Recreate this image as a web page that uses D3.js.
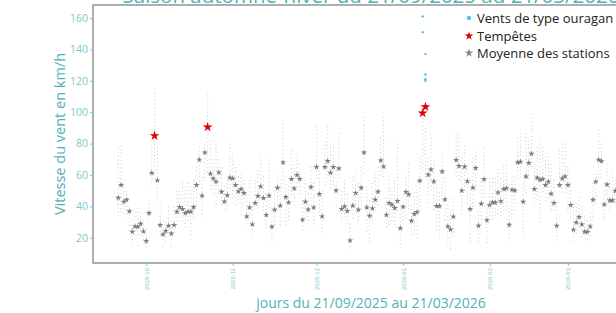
<!DOCTYPE html>
<html><head><meta charset="utf-8">
<script src="https://cdn.jsdelivr.net/npm/d3@7"></script>
<style>
html,body{margin:0;padding:0;background:#fff;}
svg{display:block;font-family:"Open Sans","Noto Sans",sans-serif;}
</style></head>
<body><svg id="c" width="616" height="313"></svg>
<script>
const titleText = "Saison automne-hiver du 21/09/2025 au 21/03/2026";
const xTitle = "jours du 21/09/2025 au 21/03/2026";
const yTitle = "Vitesse du vent en km/h";
const legendLabels = ["Vents de type ouragan", "Tempêtes", "Moyenne des stations"];
const startDate = "2025-09-21";
const endDate = "2026-03-21";
const yTicks = [20, 40, 60, 80, 100, 120, 140, 160];

// daily mean of stations (km/h), one value per day from 21/09/2025
const meanSpeed = [45.4,53.6,42.9,44.2,36.8,23.8,27.2,27,28.9,24,17.9,35.7,61.2,85,56.5,28.1,22.1,24.3,27.6,22.7,
28.1,36.6,39.5,38.3,35.7,36.6,36.6,39.5,53.6,69.7,46.8,74.3,90.5,60.8,57.8,55.7,61.6,49.3,43.1,47,
58.2,57.8,53.6,49.5,51,48.5,33.6,39.3,28.5,42.1,46.6,52.7,45.3,34.5,46.8,27,37.8,51.8,40.4,68,
45.9,42.5,57.4,51.4,59.9,57.4,31.5,42.9,38,52.3,39.3,65,47.8,33.6,65,68.9,61.4,65,50.1,64.1,
38.3,39.9,37,18.3,40.4,48.5,37.8,51.8,74.3,39.3,34,38.7,44.2,49.3,69.2,65.4,34.5,42.1,41,38.9,
43.4,26,39.8,49.1,47.5,30.8,35.1,36.4,56.3,99.4,103.4,60.1,63.5,55.9,40.2,40.2,62.2,44.4,27.2,25.3,
33.4,69.5,65.7,50,65.2,56,38.3,51.8,64.4,27.6,41.6,57.3,31.2,40.9,42.6,42.4,48.8,43.3,51,51.5,
28.2,50.6,50.1,68,68.4,42.9,59,67.6,73.5,51,58.2,56.9,57.4,53.6,55.7,48,42.1,27.6,53.6,57.8,
59,53.6,40.8,25.1,29.7,33.2,28.5,23.8,23.8,27.2,44.2,55.7,69.7,68.9,41.2,53.9,43.8,43.8,49.7];

// highest and lowest station reading of each day (km/h)
const maxSpeed = [77,79,57,50,40,31,34,39,36,31,26,44,78,115,78,41,31,30,40,31,
40,50,50,57,53,55,53,57,65,78,59,80,112,82,70,82,70,65,53,57,
80,74,65,59,61,57,48,57,40,57,63,72,59,48,70,40,50,61,57,95,
59,53,76,67,72,67,44,57,48,65,55,91,63,50,82,91,78,80,65,87,
50,57,48,29,59,63,55,65,97,53,44,55,61,65,84,97,46,57,50,57,
80,40,48,61,67,41,49,56,71,96,90,71,86,69,54,49,73,58,41,37,
45,88,86,71,79,66,58,71,75,37,58,77,41,58,58,58,64,58,66,69,
39,59,59,84,87,57,89,82,99,67,78,82,78,72,74,67,57,40,76,80,
80,65,55,42,42,46,40,34,31,36,55,61,89,80,50,67,57,61,57];
const minSpeed = [33,35,33,35,27,15,19,14,21,17,14,31,52,57,43,21,14,17,21,12,
23,27,31,29,25,29,21,31,40,53,31,57,60,50,48,40,48,40,36,36,
50,44,40,40,34,40,27,31,23,36,38,44,36,25,38,17,27,42,27,50,
27,31,46,40,48,46,23,31,27,40,27,57,36,23,53,57,50,53,42,57,
29,31,27,12,31,36,27,40,61,23,17,27,36,40,59,57,25,27,29,27,
36,14,27,31,36,20,22,20,37,62,58,41,50,37,24,20,43,30,16,12,
20,58,56,33,50,39,16,37,50,16,28,45,16,28,30,33,33,33,37,37,
16,31,36,57,57,21,46,57,65,40,44,29,48,42,44,36,36,17,50,48,
48,36,31,17,21,23,19,17,17,21,31,40,57,57,29,40,36,40,40];

// storm days (index of day from 21/09/2025)
const stormDays = [13, 32, 109, 110];
// hurricane-type gusts: day index and speed
const hurricaneDay = [109, 109, 110, 110, 110, 110];
const hurricaneSpeed = [161, 151, 137, 124, 121, 120];

const svg = d3.select("#c");
const teal = "#4fb3b3", tealLight = "#7ccaca";
const panel = {left: 93, right: 649, top: 5, bottom: 263};

const t0 = new Date(startDate + "T00:00:00Z"), t1 = new Date(endDate + "T00:00:00Z");
const pad = (t1 - t0) * 0.05;
const x = d3.scaleUtc().domain([new Date(+t0 - pad), new Date(+t1 + pad)]).range([panel.left, panel.right]);
const y = d3.scaleLinear().domain([3.9, 168.3]).range([panel.bottom, panel.top]);
const day = i => d3.utcDay.offset(t0, i);

svg.append("defs").append("clipPath").attr("id","pc")
  .append("rect").attr("x",panel.left).attr("y",panel.top).attr("width",panel.right-panel.left).attr("height",panel.bottom-panel.top);

const g = svg.append("g").attr("clip-path","url(#pc)");

// station spread
g.selectAll("line.st").data(meanSpeed.map((m,i)=>i)).join("line")
  .attr("x1", i=>x(day(i))).attr("x2", i=>x(day(i)))
  .attr("y1", i=>y(maxSpeed[i])).attr("y2", i=>y(minSpeed[i]))
  .attr("stroke","#d2d2d2").attr("stroke-width",1.1).attr("stroke-dasharray","1.1,2.6");

// hurricane points
g.selectAll("circle.h").data(hurricaneDay.map((d,i)=>i)).join("circle")
  .attr("cx", i=>x(day(hurricaneDay[i]))).attr("cy", i=>y(hurricaneSpeed[i])).attr("r",1.2)
  .attr("fill","#4cc3f0");

const star = d3.symbol().type(d3.symbolStar);
// mean stars
g.selectAll("path.m").data(meanSpeed.map((m,i)=>i).filter(i=>!stormDays.includes(i))).join("path")
  .attr("transform", i=>`translate(${x(day(i))},${y(meanSpeed[i])})`)
  .attr("d", star.size(12)()).attr("fill","#7d7d7d");
// storm stars
g.selectAll("path.s").data(stormDays).join("path")
  .attr("transform", i=>`translate(${x(day(i))},${y(meanSpeed[i])})`)
  .attr("d", star.size(30)()).attr("fill","#e00000");

// panel border
svg.append("rect").attr("x",panel.left).attr("y",panel.top).attr("width",panel.right-panel.left).attr("height",panel.bottom-panel.top)
  .attr("fill","none").attr("stroke","#7a7a7a").attr("stroke-width",1.2);

// axes
const ya = svg.append("g").attr("transform",`translate(${panel.left},0)`)
  .call(d3.axisLeft(y).tickValues(yTicks).tickSize(3).tickPadding(2));
ya.select(".domain").remove();
ya.selectAll("line").attr("stroke",tealLight);
ya.selectAll("text").attr("fill",tealLight).attr("font-size",10.5).style("font-family","Open Sans");

const xa = svg.append("g").attr("transform",`translate(0,${panel.bottom})`)
  .call(d3.axisBottom(x).ticks(d3.utcMonth.every(1)).tickFormat(d3.utcFormat("%Y-%m")).tickSize(3));
xa.select(".domain").remove();
xa.selectAll("line").attr("stroke",tealLight);
xa.selectAll("text").attr("fill",tealLight).attr("font-size",6).attr("transform","rotate(-90)")
  .attr("x",-5).attr("y",0).attr("dy","0.35em").attr("text-anchor","end");

// titles
svg.append("text").attr("x",371).attr("y",3).attr("text-anchor","middle").attr("font-size",20.5)
  .attr("fill",teal).text(titleText);
svg.append("text").attr("x",371).attr("y",308).attr("text-anchor","middle").attr("font-size",14)
  .attr("fill",teal).text(xTitle);
svg.append("text").attr("transform","translate(65,134) rotate(-90)").attr("text-anchor","middle").attr("font-size",14.5)
  .attr("fill",teal).text(yTitle);

// legend
const lg = svg.append("g");
const ly = [18, 36, 53];
lg.append("circle").attr("cx",469).attr("cy",ly[0]).attr("r",2.2).attr("fill","#4cc3f0");
lg.append("path").attr("transform",`translate(469,${ly[1]})`).attr("d",star.size(24)()).attr("fill","#e00000");
lg.append("path").attr("transform",`translate(469,${ly[2]})`).attr("d",star.size(24)()).attr("fill","#888");
legendLabels.forEach((t,i)=>lg.append("text").attr("x",477).attr("y",ly[i]).attr("dy","0.35em")
  .attr("font-size",13).attr("fill","#222").text(t));
</script></body></html>
